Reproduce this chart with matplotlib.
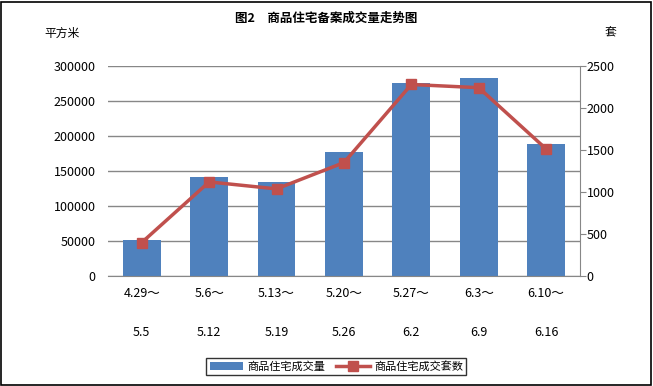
import matplotlib
matplotlib.use("Agg")
from matplotlib import pyplot as plt
from matplotlib.patches import Rectangle
import numpy as np

plt.rcParams['font.family'] = ['Noto Sans CJK SC', 'DejaVu Sans']

week_start = ["4.29～", "5.6～", "5.13～", "5.20～", "5.27～", "6.3～", "6.10～"]
week_end = ["5.5", "5.12", "5.19", "5.26", "6.2", "6.9", "6.16"]
area = [52000, 141500, 134500, 177500, 275500, 283000, 188500]
units = [398, 1120, 1037, 1350, 2280, 2242, 1512]

bar_color = "#4F81BD"
line_color = "#C0504D"
grid_color = "#878787"

fig = plt.figure(figsize=(6.53, 3.86), dpi=100)
fig.patches.append(Rectangle((0.002, 0.003), 0.995, 0.993, transform=fig.transFigure,
                             fill=False, edgecolor="black", linewidth=1.2))

ax = fig.add_axes([0.1654, 0.285, 0.7226, 0.544])
x = np.arange(len(area))
bars = ax.bar(x, area, width=0.56, color=bar_color, zorder=2, label="商品住宅成交量")
ax.set_xlim(-0.5, len(area) - 0.5)
ax.set_ylim(0, 300000)
ax.set_yticks(np.arange(0, 300001, 50000))
ax.yaxis.grid(True, color=grid_color, linewidth=1)
ax.set_axisbelow(True)
for s in ["left", "top", "right"]:
    ax.spines[s].set_visible(False)
ax.spines["bottom"].set_color(grid_color)
ax.tick_params(axis="y", length=0, labelsize=9, pad=9)
ax.tick_params(axis="x", length=0)
ax.set_xticks(x)
ax.set_xticklabels([a + "\n\n" + b for a, b in zip(week_start, week_end)],
                   fontsize=9, linespacing=1.65)
ax.tick_params(axis="x", pad=8)

ax2 = ax.twinx()
ln, = ax2.plot(x, units, color=line_color, linewidth=2.5, marker="s", markersize=7,
               label="商品住宅成交套数", zorder=3)
ax2.set_ylim(0, 2500)
ax2.set_yticks(np.arange(0, 2501, 500))
for s in ["left", "top", "bottom"]:
    ax2.spines[s].set_visible(False)
ax2.spines["right"].set_color(grid_color)
ax2.tick_params(axis="y", direction="out", length=4, color=grid_color, labelsize=9, pad=1)

fig.text(0.5, 0.952, "图2　商品住宅备案成交量走势图", ha="center", va="center",
         fontsize=9, fontweight="bold")
fig.text(0.095, 0.914, "平方米", ha="center", va="center", fontsize=8.5)
fig.text(0.935, 0.914, "套", ha="center", va="center", fontsize=8.5)

leg = fig.legend([bars, ln], ["商品住宅成交量", "商品住宅成交套数"], loc="center",
                 bbox_to_anchor=(0.515, 0.05), ncol=2, fontsize=8, frameon=True,
                 fancybox=False, edgecolor="black", handlelength=3, columnspacing=1,
                 handletextpad=0.4, borderpad=0.3)
leg.get_frame().set_linewidth(1)

fig.savefig("out.png", dpi=100)
